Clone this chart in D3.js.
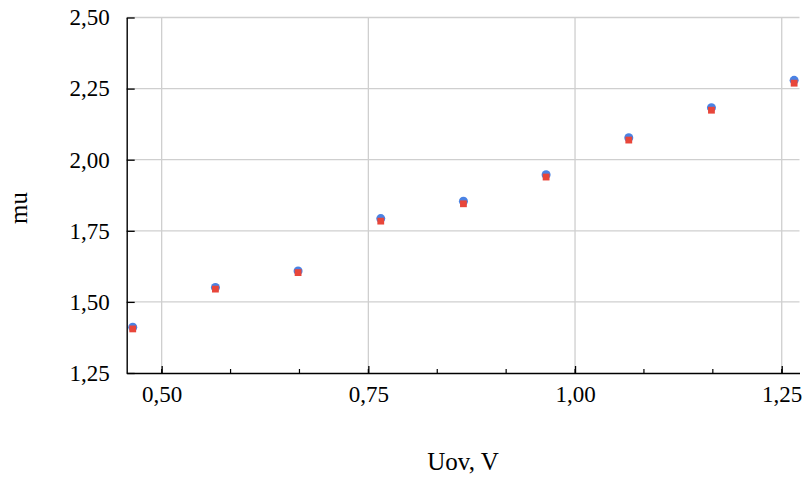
<!DOCTYPE html>
<html>
<head>
<meta charset="utf-8">
<script src="https://cdn.jsdelivr.net/npm/d3@7"></script>
<style>
    body { margin: 0; background: #fff; }
    text { font-family: "Liberation Serif", "Times New Roman", serif; fill: #000; }
</style>
</head>
<body>
<script>
// Data.
const uov = [0.465, 0.565, 0.665, 0.765, 0.865, 0.965, 1.065, 1.165, 1.265];
const muBlue = [1.411, 1.551, 1.609, 1.793, 1.854, 1.947, 2.077, 2.183, 2.279];
const muRed = [1.405, 1.545, 1.603, 1.784, 1.845, 1.939, 2.069, 2.174, 2.269];

const xTicks = [0.50, 0.75, 1.00, 1.25];
const yTicks = [1.25, 1.50, 1.75, 2.00, 2.25, 2.50];

const width = 806;
const height = 477;
const margin = {top: 17.5, right: 6.5, bottom: 104, left: 126.7};

const svg = d3.select('body').append('svg')
    .attr('width', width)
    .attr('height', height);

const x = d3.scaleLinear()
    .domain([0.4577, 1.2715])
    .range([margin.left, width - margin.right]);

const y = d3.scaleLinear()
    .domain([1.25, 2.50])
    .range([height - margin.bottom, margin.top]);

const fmt = d => d3.format('.2f')(d).replace('.', ',');

// Grid lines
svg.append('g')
    .selectAll('line')
    .data(xTicks)
    .join('line')
    .attr('x1', d => x(d))
    .attr('x2', d => x(d))
    .attr('y1', y(2.5))
    .attr('y2', y(1.25))
    .attr('stroke', '#cfcfcf')
    .attr('stroke-width', 1.3);

svg.append('g')
    .selectAll('line')
    .data(yTicks.slice(1))
    .join('line')
    .attr('x1', x.range()[0])
    .attr('x2', x.range()[1])
    .attr('y1', d => y(d))
    .attr('y2', d => y(d))
    .attr('stroke', '#cfcfcf')
    .attr('stroke-width', 1.3);

// Minor ticks on the bottom axis (3 divisions per major step)
const minor = d3.range(x.domain()[0], x.domain()[1], 0.25 / 3)
    .map((d, i) => 0.5 + (Math.ceil((x.domain()[0] - 0.5) / (0.25 / 3)) + i) * 0.25 / 3)
    .filter(d => d < x.domain()[1]);

svg.append('g')
    .selectAll('line')
    .data(minor)
    .join('line')
    .attr('x1', d => x(d))
    .attr('x2', d => x(d))
    .attr('y1', y(1.25))
    .attr('y2', y(1.25) - 4)
    .attr('stroke', '#000')
    .attr('stroke-width', 1.2);

// Bottom axis
const xAxis = svg.append('g')
    .attr('transform', `translate(0,${y(1.25)})`)
    .call(d3.axisBottom(x).tickValues(xTicks).tickFormat(fmt).tickSizeInner(-7).tickSizeOuter(0).tickPadding(13));

// Left axis
const yAxis = svg.append('g')
    .attr('transform', `translate(${x.range()[0]},0)`)
    .call(d3.axisLeft(y).tickValues(yTicks).tickFormat(fmt).tickSizeInner(-8).tickSizeOuter(0).tickPadding(17));

[xAxis, yAxis].forEach(g => {
    g.select('.domain').attr('stroke', '#000').attr('stroke-width', 1.4);
    g.selectAll('.tick line').attr('stroke', '#000').attr('stroke-width', 1.3);
    g.selectAll('.tick text')
        .attr('font-family', '"Liberation Serif", serif')
        .attr('font-size', 23)
        .attr('fill', '#000');
});
xAxis.selectAll('.tick text').attr('dy', '0.71em');

// Points: blue circles, red squares on top
svg.append('g')
    .selectAll('circle')
    .data(uov)
    .join('circle')
    .attr('cx', (d, i) => x(d))
    .attr('cy', (d, i) => y(muBlue[i]))
    .attr('r', 4.5)
    .attr('fill', '#4a82e4');

svg.append('g')
    .selectAll('rect')
    .data(uov)
    .join('rect')
    .attr('x', (d, i) => x(d) - 3.4)
    .attr('y', (d, i) => y(muRed[i]) - 3.4)
    .attr('width', 6.8)
    .attr('height', 6.8)
    .attr('fill', '#e8463a');

// Axis titles
svg.append('text')
    .attr('x', 463)
    .attr('y', 470)
    .attr('text-anchor', 'middle')
    .attr('font-size', 25)
    .text('Uov, V');

svg.append('text')
    .attr('transform', 'translate(27,208) rotate(-90)')
    .attr('text-anchor', 'middle')
    .attr('font-size', 25)
    .text('mu');
</script>
</body>
</html>
